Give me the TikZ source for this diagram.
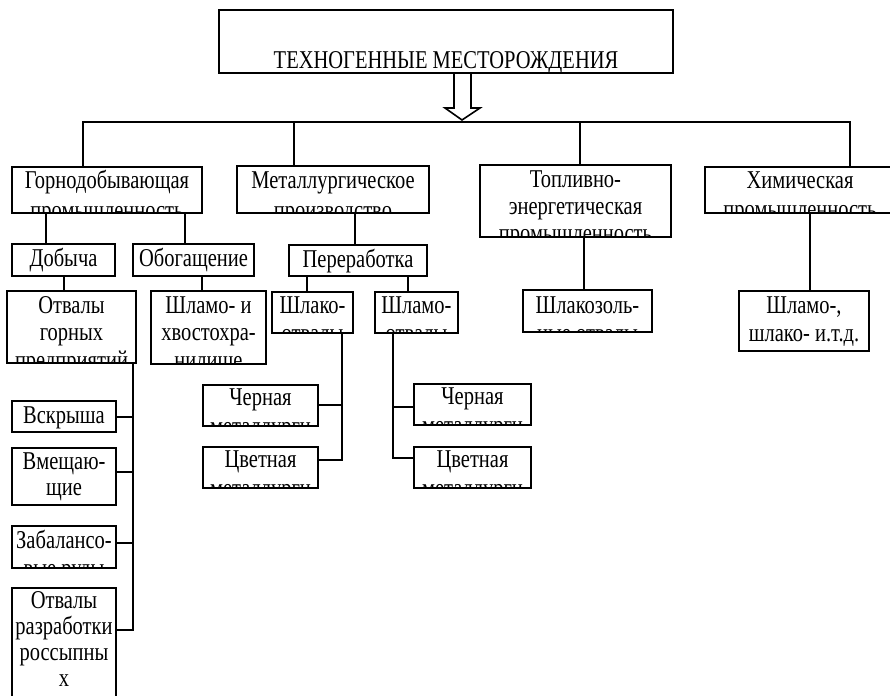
\documentclass[tikz,border=0pt]{standalone}
\usepackage{fontspec}
\usepackage{graphicx}
\setmainfont{Liberation Serif}
\usetikzlibrary{fit,calc}

\tikzset{
  boxline/.style={draw=black, line width=1.6pt, inner sep=0pt},
  link/.style={draw=black, line width=1.6pt},
  linetxt/.style={inner sep=0pt, anchor=base, font=\fontsize{20.5}{24}\selectfont}
}

% \tb{name}{x1}{y1}{x2}{y2}{first baseline offset}{line spacing}{lines}
% the lettering is set tall and narrow, clipped by the frame,
% and the frame is drawn over it
\newcommand\tb[8]{%
  \begin{scope}
    \clip (#2,#3) rectangle (#4,#5);
    \foreach \ln [count=\i from 0] in {#8} {
      \node[linetxt] at ({(#2+#4)/2},{#3+#6+\i*#7}) {\scalebox{1}[1.25]{\ln}};
    }
  \end{scope}
  \node[boxline, fit={(#2,#3) (#4,#5)}] (#1) {};
}

\begin{document}
\begin{tikzpicture}[x=1pt,y=-1pt]
\useasboundingbox (0,0) rectangle (890,695);

% title
\tb{top}{219}{10}{673}{73}{59}{28}{{ТЕХНОГЕННЫЕ МЕСТОРОЖДЕНИЯ}}

% branches of industry
\tb{gorno}{12}{167}{202}{213}{21}{30}{Горнодобывающая,промышленность}
\tb{metal}{237}{166}{429}{213}{22}{30}{Металлургическое,производство}
\tb{fuel}{480}{165}{671}{237}{22}{27}{Топливно-,энергетическая,промышленность}
\tb{chem}{705}{167}{895}{213}{21}{29}{Химическая,промышленность}

% second level
\tb{dob}{12}{244}{115}{276}{22}{28}{Добыча}
\tb{obog}{133}{244}{254}{276}{22}{28}{Обогащение}
\tb{pererab}{289}{245}{427}{276}{22}{28}{Переработка}

% third level
\tb{otv}{7}{291}{136}{363}{22}{27.5}{Отвалы,горных,предприятий}
\tb{shlamoi}{151}{291}{266}{364}{22}{27.5}{Шламо- и,хвостохра-,нилище}
\tb{shlako}{272}{292}{353}{333}{21}{28}{Шлако-,отвалы}
\tb{shlamo}{375}{292}{458}{333}{21}{28}{Шламо-,отвалы}
\tb{shlakozol}{523}{290}{652}{332}{23}{28}{Шлакозоль-,ные отвалы}
\tb{chemw}{739}{291}{869}{351}{22}{28}{{Шламо-,},{шлако- и.т.д.}}

% metallurgy sub-branches
\tb{chL}{203}{385}{318}{426}{20}{29}{Черная,металлурги}
\tb{cvL}{203}{447}{318}{488}{20}{29}{Цветная,металлурги}
\tb{chR}{414}{384}{531}{425}{20}{29}{Черная,металлурги}
\tb{cvR}{414}{447}{531}{488}{20}{29}{Цветная,металлурги}

% mining dumps
\tb{vskr}{12}{401}{116}{432}{22}{28}{Вскрыша}
\tb{vmesh}{12}{448}{116}{505}{21}{26}{Вмещаю-,щие}
\tb{zabal}{12}{526}{116}{568}{22}{28}{Забалансо-,вые руды}
\tb{otvr}{12}{588}{116}{700}{20}{26}{Отвалы,разработки,россыпны,х}

% hollow arrow from the title to the bus
\coordinate (ar) at (462,73);
\draw[link, line join=miter]
  (ar -| 454,0) -- ++(0,35) -- ++(-9,0) -- (462,120) -- (480,108) -- (471,108) -- (ar -| 471,0);

% main bus
\coordinate (busL) at (83,122);
\coordinate (busR) at (850,122);
\coordinate (busM) at (294,122);
\coordinate (busF) at (580,122);
\draw[link] (busL |- gorno.north) -- (busL) -- (busR) -- (busR |- chem.north);
\draw[link] (busM) -- (busM |- metal.north);
\draw[link] (busF) -- (busF |- fuel.north);

% mining industry
\draw[link] (gorno.south -| 46,0) -- (dob.north -| 46,0);
\draw[link] (gorno.south -| 185,0) -- (obog.north -| 185,0);
\draw[link] (dob.south -| 64,0) -- (otv.north -| 64,0);
\draw[link] (obog.south -| 202,0) -- (shlamoi.north -| 202,0);

\coordinate (otvbus) at (133,630);
\draw[link] (otv.south -| otvbus) -- (otvbus) -- (otvbus -| otvr.east);
\draw[link] (vskr.east |- 0,417) -- (otvbus |- 0,417);
\draw[link] (vmesh.east |- 0,472) -- (otvbus |- 0,472);
\draw[link] (zabal.east |- 0,543) -- (otvbus |- 0,543);

% metallurgy
\draw[link] (metal.south -| 355,0) -- (pererab.north -| 355,0);
\draw[link] (pererab.south -| 307,0) -- (shlako.north -| 307,0);
\draw[link] (pererab.south -| 408,0) -- (shlamo.north -| 408,0);

\coordinate (slL) at (342,460);
\draw[link] (shlako.south -| slL) -- (slL) -- (cvL.east |- slL);
\draw[link] (chL.east |- 0,405) -- (slL |- 0,405);

\coordinate (slR) at (393,458);
\draw[link] (shlamo.south -| slR) -- (slR) -- (cvR.west |- slR);
\draw[link] (slR |- 0,407) -- (chR.west |- 0,407);

% fuel and chemical industry
\draw[link] (fuel.south -| 584,0) -- (shlakozol.north -| 584,0);
\draw[link] (chem.south -| 810,0) -- (chemw.north -| 810,0);
\end{tikzpicture}
\end{document}
